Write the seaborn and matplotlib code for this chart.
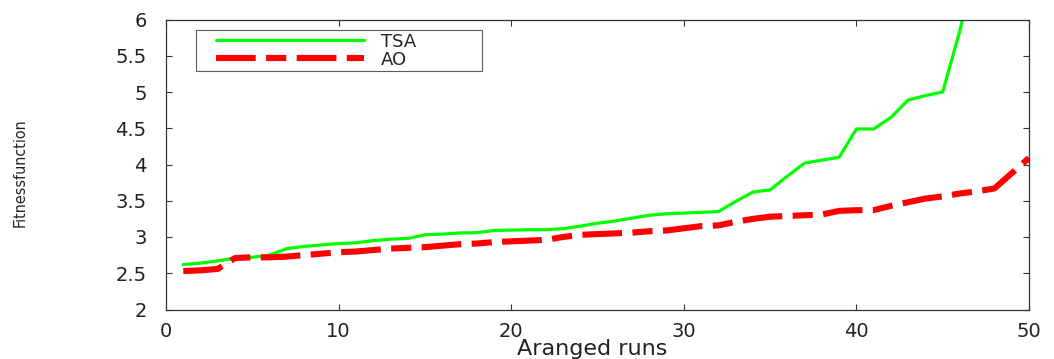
import numpy as np
import pandas as pd
import matplotlib
matplotlib.use("Agg")
import matplotlib.pyplot as plt
from matplotlib.legend_handler import HandlerLine2D
import seaborn as sns

runs = list(range(1, 51))
tsa = [2.62, 2.64, 2.67, 2.71, 2.72, 2.75, 2.84, 2.87, 2.89, 2.91,
       2.92, 2.95, 2.97, 2.98, 3.03, 3.04, 3.055, 3.06, 3.09, 3.095,
       3.10, 3.10, 3.115, 3.15, 3.19, 3.22, 3.26, 3.30, 3.32, 3.33,
       3.34, 3.35, 3.49, 3.62, 3.65, 3.84, 4.02, 4.06, 4.10, 4.49,
       4.49, 4.65, 4.89, 4.95, 5.00, 5.85, 6.90, 7.50, 8.20, 9.00]
ao = [2.53, 2.54, 2.56, 2.71, 2.72, 2.72, 2.73, 2.75, 2.77, 2.79,
      2.80, 2.82, 2.84, 2.85, 2.86, 2.88, 2.90, 2.91, 2.93, 2.94,
      2.95, 2.96, 3.00, 3.03, 3.04, 3.05, 3.06, 3.08, 3.09, 3.12,
      3.15, 3.16, 3.21, 3.25, 3.28, 3.29, 3.30, 3.31, 3.36, 3.37,
      3.37, 3.43, 3.48, 3.53, 3.56, 3.60, 3.63, 3.67, 3.88, 4.09]
series_names = ["TSA", "AO"]
x_ticks = [0, 10, 20, 30, 40, 50]
y_ticks = [2, 2.5, 3, 3.5, 4, 4.5, 5, 5.5, 6]
y_tick_labels = ["2", "2.5", "3", "3.5", "4", "4.5", "5", "5.5", "6"]
x_label = "Aranged runs"
y_label = "Fitnessfunction"

sns.set_style("white")
plt.rcParams["font.family"] = ["DejaVu Sans"]

W, H = 1054, 359
fig = plt.figure(figsize=(W / 100, H / 100), dpi=100)
ax = fig.add_axes([166 / W, 1 - 309.5 / H, (1029 - 166) / W, (309.5 - 19.5) / H])

df = pd.DataFrame({"run": runs, "TSA": tsa, "AO": ao})
sns.lineplot(data=df, x="run", y="TSA", color="#00ff00", linewidth=2.3,
             ax=ax, label=series_names[0])
sns.lineplot(data=df, x="run", y="AO", color="#ff0000", linewidth=4.4,
             ax=ax, label=series_names[1])
ax.lines[1].set_linestyle((0, (6.5, 1.7, 3.3, 1.7)))
ax.lines[1].set_dash_capstyle("butt")

ax.set_xlim(0, 50)
ax.set_ylim(2, 6)
ax.set_xticks(x_ticks)
ax.set_xticklabels([str(t) for t in x_ticks])
ax.set_yticks(y_ticks)
ax.set_yticklabels(y_tick_labels)
ax.tick_params(axis="both", which="both", direction="in", length=4, width=0.8,
               color="#333333", labelsize=14, labelcolor="#222222",
               top=True, right=True, bottom=True, left=True)
ax.tick_params(axis="y", pad=14)
ax.tick_params(axis="x", pad=9)
for s in ax.spines.values():
    s.set_visible(True)
    s.set_color("#333333")
    s.set_linewidth(0.9)

ax.set_xlabel(x_label, fontsize=16, color="#222222", va="baseline")
ax.xaxis.set_label_coords((592 - 166) / 863, -(355 - 309.5) / 290)

ax.set_ylabel(y_label, fontsize=11.5, color="#222222", fontstretch="condensed")
ax.yaxis.set_label_coords(-(166 - 28) / 863, (309.5 - 173) / 290)

fs = 13 * 100 / 72.0
pad_px, line_px = 17, 148
hl = (line_px + pad_px) / fs
leg = ax.legend(loc="upper left",
                bbox_to_anchor=((196 - 166) / 863, (309.5 - 70) / 290,
                                (482 - 196) / 863, 40 / 290),
                mode="expand",
                borderaxespad=0, fontsize=13, frameon=True, fancybox=False,
                handlelength=hl, handletextpad=17 / fs,
                borderpad=0.15, labelspacing=0.0, edgecolor="#333333",
                handler_map={plt.Line2D: HandlerLine2D(xpad=pad_px / fs)})
leg.get_frame().set_linewidth(0.8)

fig.savefig("out.png", dpi=100)
